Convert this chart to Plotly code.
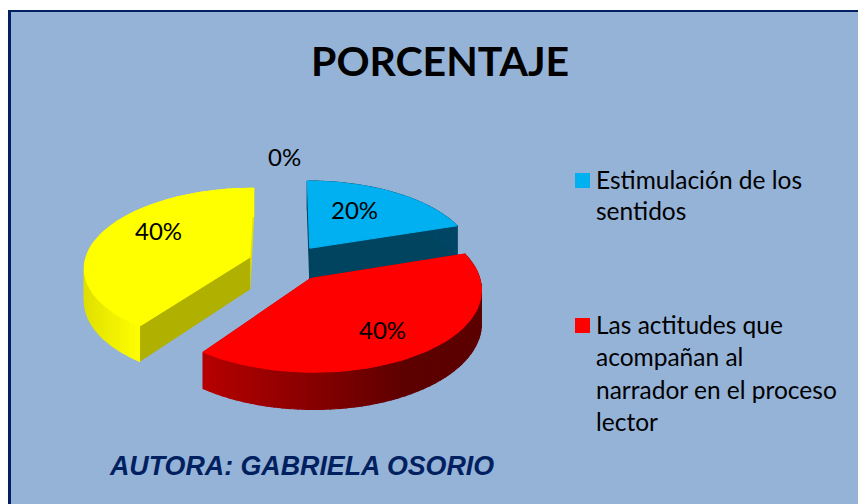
import math
import plotly.graph_objects as go

# ---- data ----
title_text = "PORCENTAJE"
author_text = "AUTORA: GABRIELA OSORIO"
shares = [20, 40, 40, 0]
share_labels = ["20%", "40%", "40%", "0%"]
legend_lines = [["Estimulación de los", "sentidos"],
                ["Las actitudes que", "acompañan al", "narrador en el proceso", "lector"]]
top_colors = ["#00B0F0", "#FF0000", "#FFFF00"]
start_face_colors = ["#004460", "#A00000", "#B0B000"]
end_face_colors = ["#004460", "#A00000", "#E2E200"]
wall_left = [(0, 70, 100), (184, 0, 0), (224, 224, 0)]
wall_right = [(0, 70, 100), (92, 0, 0), (255, 255, 0)]

# ---- pie geometry ----
CX, CY, R, A, K, EXPL, H = 287, 263, 165, 78.4, 0.119, 0.24, 32
BG = "#95B3D7"
NAVY = "#002060"


def project(u, v, h=0.0):
    s = 1 / (1 - K * v)
    return CX + R * u * s, CY + (A * v + h) * s


def polygon(points, color):
    xs = [p[0] for p in points] + [points[0][0]]
    ys = [p[1] for p in points] + [points[0][1]]
    return go.Scatter(x=xs, y=ys, mode="lines", fill="toself", fillcolor=color,
                      line=dict(color=color, width=1.2), hoverinfo="skip", showlegend=False)


def mix(c1, c2, t):
    t = max(0, min(1, t))
    return "rgb(%d,%d,%d)" % tuple(round(a + (b - a) * t) for a, b in zip(c1, c2))


def slice_traces(idx, start, sweep):
    mid = math.radians(start + sweep / 2)
    ou, ov = EXPL * math.sin(mid), -EXPL * math.cos(mid)
    n = 60
    arc = []
    for i in range(n + 1):
        a = math.radians(start + sweep * i / n)
        arc.append((ou + math.sin(a), ov - math.cos(a)))
    out = []
    apex = (ou, ov)
    for end, col in ((arc[-1], end_face_colors[idx]), (arc[0], start_face_colors[idx])):
        out.append(polygon([project(*apex), project(*end), project(*end, H), project(*apex, H)], col))
    xs = [project(*p)[0] for p in arc]
    lo, hi = min(xs), max(xs)
    span = {0: 1.0, 1: 0.75, 2: 0.35}[idx]
    for i in range(n):
        p, q = arc[i], arc[i + 1]
        t = ((project(*p)[0] - lo) / (hi - lo)) / span
        out.append(polygon([project(*p), project(*q), project(*q, H), project(*p, H)],
                           mix(wall_left[idx], wall_right[idx], t)))
    out.append(polygon([project(*apex)] + [project(*p) for p in arc], top_colors[idx]))
    return out


starts = []
acc = 0.0
total = sum(shares)
for v in shares:
    starts.append(acc)
    acc += v / total * 360

fig = go.Figure()
for idx in (0, 2, 1):  # back slices first
    for tr in slice_traces(idx, starts[idx], shares[idx] / total * 360):
        fig.add_trace(tr)

# legend swatches
swatch_y = [180.5, 325.5]
fig.add_trace(go.Scatter(x=[582.5, 582.5], y=swatch_y, mode="markers", hoverinfo="skip",
                         showlegend=False,
                         marker=dict(symbol="square", size=15, color=top_colors[:2],
                                     line=dict(width=0))))

ann = []
TXT = dict(family="Lato, Carlito, sans-serif", color="#000000")
ann.append(dict(x=439.5, y=60, text="<b>%s</b>" % title_text, font=dict(size=41, **TXT),
                showarrow=False, xanchor="center", yanchor="middle"))
for label, (x, y) in zip(share_labels, [(354, 209.5), (382, 329.5), (158, 230), (284, 156.5)]):
    ann.append(dict(x=x, y=y, text=label, font=dict(size=24, **TXT), showarrow=False,
                    xanchor="center", yanchor="middle"))
for lines, ys in zip(legend_lines, [[179.5, 210.5], [324.5, 356.5, 389.5, 421.5]]):
    for line, y in zip(lines, ys):
        ann.append(dict(x=594, y=y, text=line, font=dict(size=24.5, **TXT), showarrow=False,
                        xanchor="left", yanchor="middle"))
ann.append(dict(x=107, y=466, text="<b><i>%s</i></b>" % author_text,
                font=dict(size=26.8, family="Liberation Sans, Arial, sans-serif", color=NAVY),
                showarrow=False, xanchor="left", yanchor="middle"))

fig.update_layout(
    width=858, height=504, margin=dict(l=0, r=0, t=0, b=0),
    paper_bgcolor="#FFFFFF", plot_bgcolor="#FFFFFF", showlegend=False,
    xaxis=dict(range=[0, 858], visible=False, fixedrange=True),
    yaxis=dict(range=[504, 0], visible=False, fixedrange=True),
    annotations=ann,
    shapes=[
        dict(type="rect", x0=9.5, y0=11, x1=870, y1=520, layer="below",
             fillcolor=BG, line=dict(width=0)),
        dict(type="line", x0=9.5, y0=10, x1=9.5, y1=520, layer="below",
             line=dict(color=NAVY, width=3)),
        dict(type="line", x0=8, y0=11, x1=870, y1=11, layer="below",
             line=dict(color=NAVY, width=2)),
    ],
)
fig.write_html("out.html", config={"displayModeBar": False},
               post_script="document.body.style.margin='0';document.body.style.overflow='hidden';")
